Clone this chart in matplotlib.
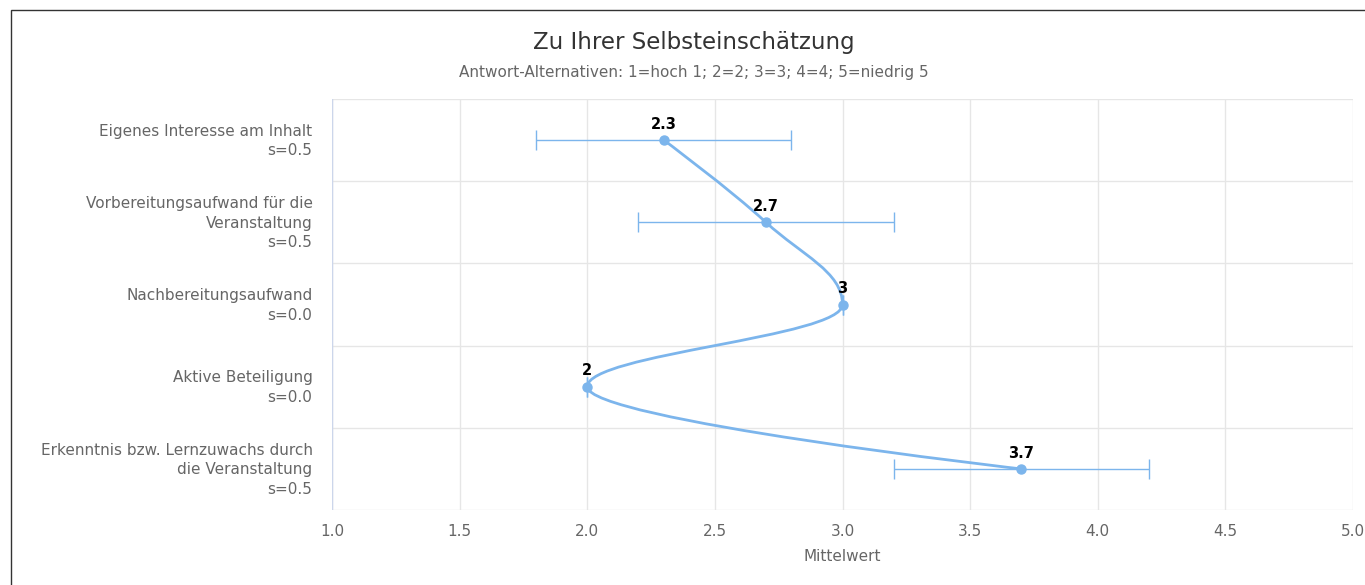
import numpy as np
import matplotlib.pyplot as plt
from matplotlib.path import Path
from matplotlib.patches import PathPatch, Rectangle
from matplotlib.transforms import ScaledTranslation

# data
categories = [
    "Eigenes Interesse am Inhalt\ns=0.5",
    "Vorbereitungsaufwand für die\nVeranstaltung\ns=0.5",
    "Nachbereitungsaufwand\ns=0.0",
    "Aktive Beteiligung\ns=0.0",
    "Erkenntnis bzw. Lernzuwachs durch\ndie Veranstaltung\ns=0.5",
]
means = [2.3, 2.7, 3.0, 2.0, 3.7]
stdevs = [0.5, 0.5, 0.0, 0.0, 0.5]
labels = ["2.3", "2.7", "3", "2", "3.7"]
xticks = [1.0, 1.5, 2.0, 2.5, 3.0, 3.5, 4.0, 4.5, 5.0]

LINE = '#7cb5ec'
GRID = '#e6e6e6'
TXT = '#666666'


def spline_path(xs, ys, smoothing=1.5):
    # highcharts-like spline: xs = category position, ys = value
    n = len(xs)
    left = [None] * n
    right = [None] * n
    for i in range(n):
        px, py = xs[i], ys[i]
        if i == 0 or i == n - 1:
            left[i] = (px, py)
            right[i] = (px, py)
            continue
        lx, ly = xs[i - 1], ys[i - 1]
        nx, ny = xs[i + 1], ys[i + 1]
        d = smoothing + 1
        lcx = (smoothing * px + lx) / d
        lcy = (smoothing * py + ly) / d
        rcx = (smoothing * px + nx) / d
        rcy = (smoothing * py + ny) / d
        corr = ((rcy - lcy) * (rcx - px)) / (rcx - lcx) + py - rcy
        lcy += corr
        rcy += corr
        if lcy > ly and lcy > py:
            lcy = max(ly, py)
            rcy = 2 * py - lcy
        elif lcy < ly and lcy < py:
            lcy = min(ly, py)
            rcy = 2 * py - lcy
        if rcy > ny and rcy > py:
            rcy = max(ny, py)
            lcy = 2 * py - rcy
        elif rcy < ny and rcy < py:
            rcy = min(ny, py)
            lcy = 2 * py - rcy
        left[i] = (lcx, lcy)
        right[i] = (rcx, rcy)
    verts = [(ys[0], xs[0])]
    codes = [Path.MOVETO]
    for i in range(1, n):
        c1 = right[i - 1]
        c2 = left[i]
        verts += [(c1[1], c1[0]), (c2[1], c2[0]), (ys[i], xs[i])]
        codes += [Path.CURVE4] * 3
    return Path(verts, codes)


def main():
    fig = plt.figure(figsize=(13.65, 5.85), dpi=100)
    ax = fig.add_axes([332 / 1365, 1 - 510 / 585, (1353 - 332) / 1365, (510 - 99) / 585])

    pos = np.arange(len(categories))

    # grid
    for x in xticks:
        ax.axvline(x, color=GRID, lw=1, zorder=0)
    for b in np.arange(-0.5, len(categories), 1.0):
        ax.axhline(b, color=GRID, lw=1, zorder=0)
    for s in ax.spines.values():
        s.set_visible(False)
    ax.axvline(1.0, color='#ccd6eb', lw=1, zorder=1)

    # error bars
    ax.errorbar(means, pos, xerr=stdevs, fmt='none', ecolor=LINE, elinewidth=1,
                capsize=7, capthick=1, zorder=2)

    # spline
    path = spline_path(list(pos), means)
    ax.add_patch(PathPatch(path, facecolor='none', edgecolor=LINE, lw=2, zorder=3))
    ax.plot(means, pos, 'o', color=LINE, markersize=6.5, zorder=4)

    for m, p, t in zip(means, pos, labels):
        ax.annotate(t, (m, p), xytext=(0, 6), textcoords='offset points', ha='center',
                    va='bottom', fontsize=10.5, fontweight='bold', color='black')

    ax.set_xlim(1.0, 5.0)
    ax.set_ylim(4.5, -0.5)
    ax.set_xticks(xticks)
    ax.set_xticklabels(["%.1f" % x for x in xticks])
    ax.set_yticks(pos)
    ax.set_yticklabels(categories, ha='right', linespacing=1.38)
    ax.tick_params(axis='both', length=0, colors=TXT, labelsize=11)
    ax.tick_params(axis='y', pad=14)
    ax.tick_params(axis='x', pad=10)
    ax.set_xlabel("Mittelwert", color=TXT, fontsize=11, labelpad=7)
    # nudge category labels up a little
    shift = ScaledTranslation(0, 3 / 100, fig.dpi_scale_trans)
    for lab in ax.get_yticklabels():
        lab.set_transform(lab.get_transform() + shift)

    fig.text(694 / 1365, 1 - 42 / 585, "Zu Ihrer Selbsteinschätzung", ha='center', va='center',
             fontsize=16.5, color='#333333')
    fig.text(694 / 1365, 1 - 72 / 585,
             "Antwort-Alternativen: 1=hoch 1; 2=2; 3=3; 4=4; 5=niedrig 5",
             ha='center', va='center', fontsize=11, color=TXT)

    # outer border
    fig.patches.append(Rectangle((11 / 1365, -0.1), 1.2, 1.1 - 10 / 585, transform=fig.transFigure,
                                 fill=False, edgecolor='#333333', lw=1))

    fig.savefig('out.png', dpi=100)
    plt.close()


if __name__ == "__main__":
    main()
